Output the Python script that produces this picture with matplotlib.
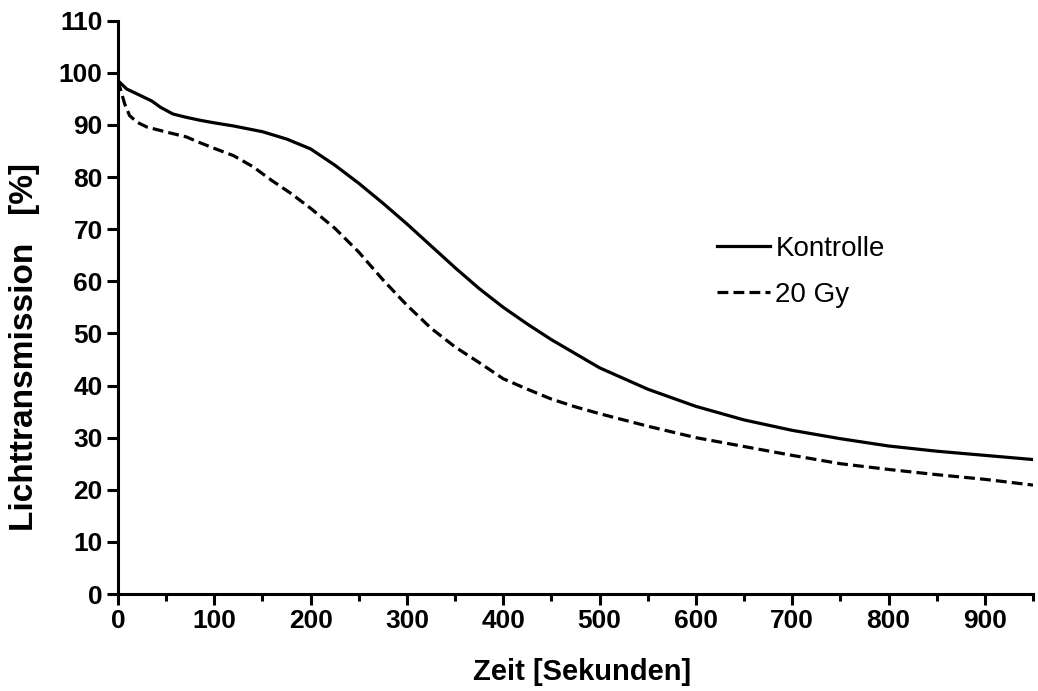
import matplotlib
matplotlib.use("Agg")
import matplotlib.pyplot as plt
from matplotlib.ticker import MultipleLocator

# Data
kontrolle_t = [0, 9, 26, 35, 44, 57, 70, 85, 100, 120, 150, 175, 200, 225, 250,
               275, 300, 325, 350, 375, 400, 425, 450, 500, 550, 600, 650, 700,
               750, 800, 850, 900, 950]
kontrolle_y = [98.5, 96.9, 95.4, 94.6, 93.4, 92.1, 91.5, 90.9, 90.4, 89.8, 88.7,
               87.3, 85.4, 82.3, 78.8, 75.0, 71.0, 66.8, 62.6, 58.6, 55.0, 51.8,
               48.8, 43.4, 39.3, 36.0, 33.4, 31.4, 29.8, 28.4, 27.4, 26.6, 25.8]

gy20_t = [0, 2, 7, 12, 20, 30, 51, 71, 85, 100, 120, 140, 160, 180, 200, 225,
          250, 275, 300, 325, 350, 375, 400, 425, 450, 475, 500, 550, 600, 650,
          700, 750, 800, 850, 900, 950]
gy20_y = [98.5, 97.2, 94.0, 91.8, 90.5, 89.6, 88.6, 87.7, 86.6, 85.5, 84.1, 82.0,
          79.3, 76.8, 74.0, 70.2, 65.6, 60.3, 55.4, 51.0, 47.4, 44.4, 41.3, 39.3,
          37.4, 35.9, 34.6, 32.2, 30.0, 28.3, 26.6, 25.0, 23.9, 22.9, 22.0, 20.9]

series_labels = ["Kontrolle", "20 Gy"]
x_label = "Zeit [Sekunden]"
y_label = "Lichttransmission   [%]"

plt.rcParams['font.family'] = ['Liberation Sans', 'DejaVu Sans']

fig = plt.figure(figsize=(10.38, 6.91), dpi=100)
ax = fig.add_axes([118/1038, 1 - 594/691, (1033-118)/1038, (594-20.7)/691])

lw = 2.3
ax.plot(kontrolle_t, kontrolle_y, color='black', lw=lw, solid_joinstyle='round',
        label=series_labels[0])
ax.plot(gy20_t, gy20_y, color='black', lw=lw, linestyle=(0, (3.4, 1.6)),
        label=series_labels[1])

ax.set_xlim(0, 950)
ax.set_ylim(0, 110)
ax.xaxis.set_major_locator(MultipleLocator(100))
ax.xaxis.set_minor_locator(MultipleLocator(50))
ax.yaxis.set_major_locator(MultipleLocator(10))

for side in ['top', 'right']:
    ax.spines[side].set_visible(False)
for side in ['left', 'bottom']:
    ax.spines[side].set_linewidth(2.2)

ax.tick_params(axis='both', which='major', length=8, width=2.2, labelsize=19,
               direction='out', pad=3)
ax.tick_params(axis='x', which='minor', length=5, width=2.2, direction='out')
for lab in ax.get_xticklabels() + ax.get_yticklabels():
    lab.set_fontweight('bold')

ax.set_xlabel(x_label, fontsize=21, fontweight='bold')
ax.set_ylabel(y_label, fontsize=24, fontweight='bold')
ax.xaxis.set_label_coords((582-118)/915, (594-672)/573.3)
ax.xaxis.label.set_va('center')
ax.yaxis.set_label_coords((25-118)/915, (594-347)/573.3)
ax.yaxis.label.set_va('center')

leg = ax.legend(loc='center left', bbox_to_anchor=((717-118)/915, (594-272)/573.3),
                frameon=False, fontsize=20, handlelength=1.9, handletextpad=0.2,
                labelspacing=0.72, borderpad=0, borderaxespad=0)

fig.savefig("out.png", dpi=100, facecolor='white')
